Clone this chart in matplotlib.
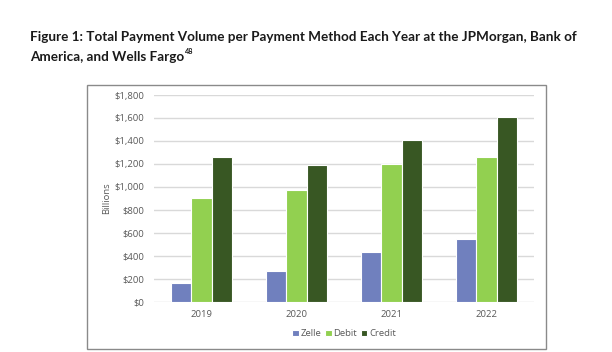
import matplotlib
matplotlib.use("Agg")
import matplotlib.pyplot as plt
import numpy as np
from matplotlib.patches import Rectangle

# data (billions of dollars)
years = ['2019', '2020', '2021', '2022']
zelle = [160, 270, 435, 550]
debit = [900, 970, 1200, 1260]
credit = [1260, 1190, 1405, 1610]
series_names = ['Zelle', 'Debit', 'Credit']
colors = ['#7080BE', '#92D050', '#385723']
yticks = [0, 200, 400, 600, 800, 1000, 1200, 1400, 1600, 1800]

W, H = 612, 352
fig = plt.figure(figsize=(W / 100, H / 100), dpi=100)

# title
fig.text(30 / W, 1 - 37 / H, 'Figure 1: Total Payment Volume per Payment Method Each Year at the JPMorgan, Bank of',
         fontsize=9.75, fontweight='bold', family='Lato', va='center', ha='left', color='#1a1a1a')
line2 = fig.text(30 / W, 1 - 57 / H, 'America, and Wells Fargo',
                 fontsize=9.75, fontweight='bold', family='Lato', va='center', ha='left', color='#1a1a1a')
fig.canvas.draw()
bb = line2.get_window_extent()
fig.text((bb.x1 + 0.5) / W, 1 - 52 / H, '48', fontsize=5.3, fontweight='bold', family='Lato',
         va='center', ha='left', color='#1a1a1a')

# chart frame
fig.patches.append(Rectangle((87 / W, 1 - 349 / H), (546 - 87) / W, (349 - 85) / H,
                             transform=fig.transFigure, fill=False, edgecolor='#8a8a8a', lw=1.0))

ax = fig.add_axes([154 / W, 1 - 301.7 / H, (534 - 154) / W, (301.7 - 95) / H])
x = np.arange(len(years))
width = 0.215
for i, (vals, name, col) in enumerate(zip([zelle, debit, credit], series_names, colors)):
    ax.bar(x + (i - 1) * width, vals, width, color=col, edgecolor='white', linewidth=0.8, label=name, zorder=3)

ax.set_xlim(-0.5, len(years) - 0.5)
ax.set_ylim(0, 1800)
ax.set_yticks(yticks)
ax.set_yticklabels(['${:,}'.format(v) for v in yticks])
ax.set_xticks(x)
ax.set_xticklabels(years)
ax.grid(axis='y', color='#d9d9d9', lw=1.0, zorder=0)
for s in ax.spines.values():
    s.set_visible(False)
ax.tick_params(axis='both', length=0, labelsize=6.8, labelcolor='#595959')
ax.tick_params(axis='y', pad=7)
ax.tick_params(axis='x', pad=6)
for lab in ax.get_xticklabels() + ax.get_yticklabels():
    lab.set_family('Open Sans')
ax.set_ylabel('Billions', fontsize=6.8, color='#595959', family='Open Sans')
ax.yaxis.set_label_coords(-0.113, 0.5)

ax.legend(loc='center', bbox_to_anchor=(0.5, -0.155), ncol=3, frameon=False,
          handlelength=0.7, handleheight=0.7, handletextpad=0.2, columnspacing=0.4,
          prop={'family': 'Open Sans', 'size': 6.8}, labelcolor='#595959')

fig.savefig('out.png', dpi=100)
